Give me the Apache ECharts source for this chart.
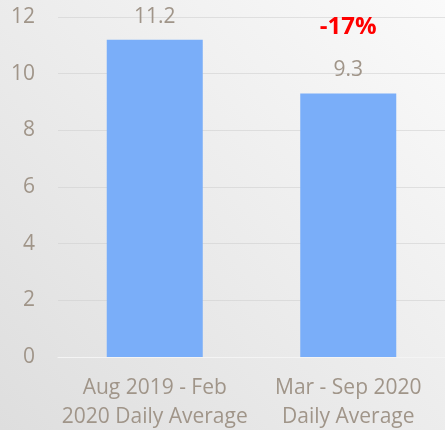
<!DOCTYPE html>
<html>
<head>
<meta charset="utf-8">
<script src="https://cdn.jsdelivr.net/npm/echarts@6/dist/echarts.min.js"></script>
<style>
html,body{margin:0;padding:0;}
#chart{width:445px;height:430px;}
</style>
</head>
<body>
<div id="chart"></div>
<script>
// 数据
var categories = ['Aug 2019 - Feb\n2020 Daily Average', 'Mar - Sep 2020\nDaily Average']
var values = [11.2, 9.3]
var changeText = ['', '-17%']

var chart = echarts.init(document.getElementById('chart'))

var txtColor = '#a09589'

var option = {
    backgroundColor: {
        type: 'linear', x: 1, y: 0, x2: 0, y2: 1,
        colorStops: [{offset: 0, color: '#fafafa'}, {offset: 1, color: '#dedede'}]
    },
    animation: false,
    grid: {left: 58, right: 0, top: 17, bottom: 73, containLabel: false, outerBoundsMode: 'none'},
    xAxis: {
        type: 'category',
        data: categories,
        axisTick: {show: false},
        axisLine: {lineStyle: {color: '#f4f4f4', width: 1}},
        axisLabel: {
            interval: 0,
            color: txtColor, fontSize: 21, fontFamily: 'Open Sans',
            lineHeight: 29, margin: 17
        }
    },
    yAxis: {
        type: 'value',
        min: 0, max: 12, interval: 2,
        axisLine: {show: false},
        axisTick: {show: false},
        splitLine: {lineStyle: {color: 'rgba(205,205,205,0.55)'}},
        axisLabel: {color: txtColor, fontSize: 21, fontFamily: 'Open Sans', margin: 23}
    },
    series: [{
        type: 'bar',
        data: values,
        barWidth: 96,
        itemStyle: {color: '#7aaef9'},
        label: {
            show: true,
            position: 'top',
            distance: 10,
            formatter: function (p) {
                var c = changeText[p.dataIndex]
                return c ? '{chg|' + c + '}\n{val|' + p.value + '}' : '{val|' + p.value + '}'
            },
            rich: {
                val: {color: txtColor, fontSize: 21, fontFamily: 'Open Sans', lineHeight: 26},
                chg: {color: '#ff0000', fontSize: 24, fontWeight: 'bold', fontFamily: 'Open Sans', lineHeight: 60}
            }
        }
    }]
}

chart.setOption(option)

window.onresize = function () {
    chart.resize()
}
</script>
</body>
</html>
